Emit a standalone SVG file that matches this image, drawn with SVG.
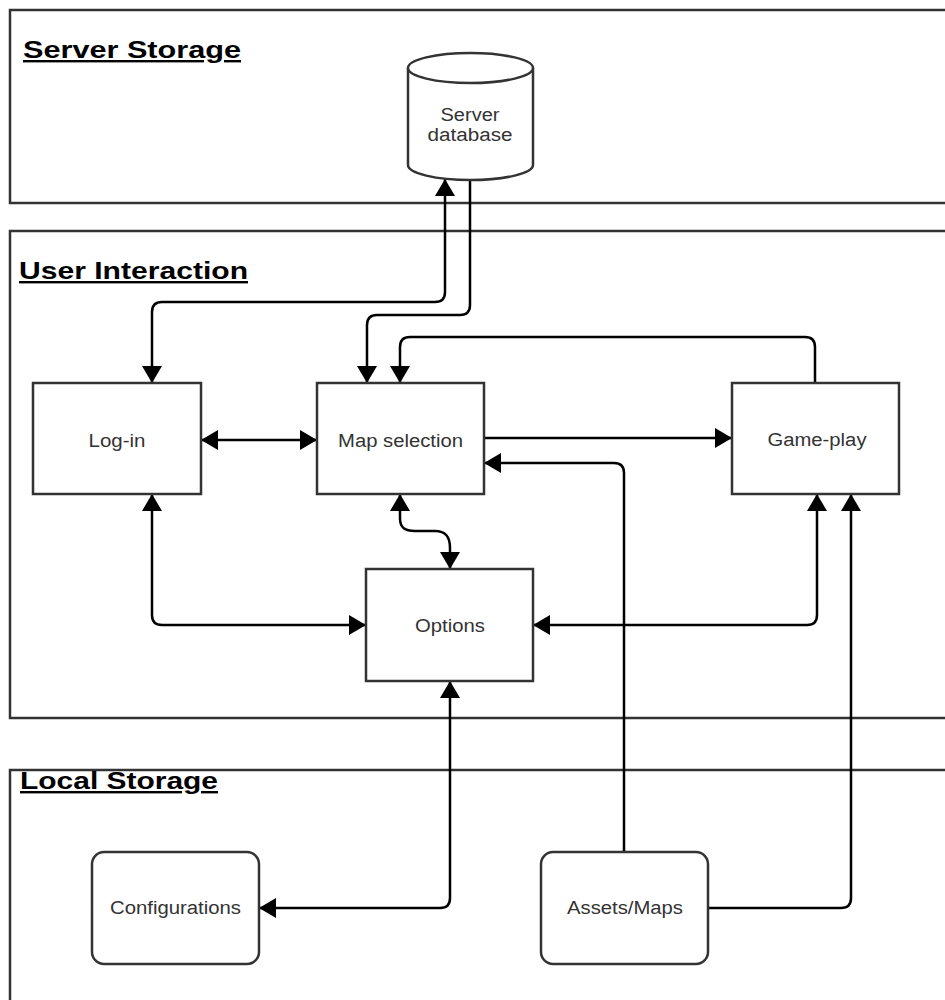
<svg xmlns="http://www.w3.org/2000/svg" width="945" height="1000" viewBox="0 0 945 1000">
  <defs>
    <marker id="arrow" markerUnits="userSpaceOnUse" markerWidth="18" markerHeight="20" refX="17" refY="10" orient="auto-start-reverse">
      <path d="M0,0 L17,10 L0,20 z" fill="#000"/>
    </marker>
  </defs>
  <style>
    .zone { fill: none; stroke: #333; stroke-width: 2.5; }
    .zone-title { font-family: "Liberation Sans", Arial, sans-serif; font-size: 24px; font-weight: bold; fill: #000; text-decoration: underline; }
    .box { fill: #fff; stroke: #333; stroke-width: 2.5; }
    .label { font-family: "Liberation Sans", Arial, sans-serif; font-size: 18px; fill: #333; text-anchor: middle; }
    .link { fill: none; stroke: #000; stroke-width: 2.5; }
    .one { marker-end: url(#arrow); }
    .two { marker-start: url(#arrow); marker-end: url(#arrow); }
  </style>
  <rect width="945" height="1000" fill="#fff"/>

  <!-- swimlane containers -->
  <g id="zone-server">
    <rect class="zone" x="10" y="10" width="960" height="193"/>
    <text class="zone-title" x="23" y="58" textLength="218" lengthAdjust="spacingAndGlyphs">Server Storage</text>
  </g>
  <g id="zone-user">
    <rect class="zone" x="10" y="231" width="960" height="487"/>
    <text class="zone-title" x="19" y="279" textLength="229" lengthAdjust="spacingAndGlyphs">User Interaction</text>
  </g>
  <g id="zone-local">
    <rect class="zone" x="10" y="770" width="960" height="260"/>
    <text class="zone-title" x="20" y="789" textLength="198" lengthAdjust="spacingAndGlyphs">Local Storage</text>
  </g>

  <!-- connectors -->
  <g id="connectors">
    <path class="link two" d="M445,179 V292 Q445,302 435,302 H162 Q152,302 152,312 V383"/>
    <path class="link one" d="M470,180 V305 Q470,315 460,315 H377 Q367,315 367,325 V383"/>
    <path class="link one" d="M815,383 V347 Q815,337 805,337 H410 Q400,337 400,347 V383"/>
    <path class="link two" d="M201,440 H317"/>
    <path class="link one" d="M484,438 H732"/>
    <path class="link one" d="M624,852 V473 Q624,463 614,463 H484"/>
    <path class="link two" d="M152,494 V615 Q152,625 162,625 H366"/>
    <path class="link two" d="M400,494 V518 C400,528 405,531 415,531 H435 C446,531 450,537 450,548 V569"/>
    <path class="link two" d="M817,494 V615 Q817,625 807,625 H533"/>
    <path class="link two" d="M450,681 V898 Q450,908 440,908 H259"/>
    <path class="link one" d="M708,908 H841 Q851,908 851,898 V494"/>
  </g>

  <!-- nodes -->
  <g id="server-database">
    <path class="box" d="M408,68 V165 A62.5,15 0 0 0 533,165 V68"/>
    <ellipse class="box" cx="470.5" cy="68" rx="62.5" ry="15"/>
    <text class="label" x="470" y="121" textLength="59" lengthAdjust="spacingAndGlyphs">Server</text>
    <text class="label" x="470" y="141" textLength="85" lengthAdjust="spacingAndGlyphs">database</text>
  </g>
  <g id="log-in">
    <rect class="box" x="33" y="383" width="168" height="111"/>
    <text class="label" x="117" y="447" textLength="57" lengthAdjust="spacingAndGlyphs">Log-in</text>
  </g>
  <g id="map-selection">
    <rect class="box" x="317" y="383" width="167" height="111"/>
    <text class="label" x="400.5" y="447" textLength="125" lengthAdjust="spacingAndGlyphs">Map selection</text>
  </g>
  <g id="game-play">
    <rect class="box" x="732" y="383" width="167" height="111"/>
    <text class="label" x="817" y="446" textLength="99" lengthAdjust="spacingAndGlyphs">Game-play</text>
  </g>
  <g id="options">
    <rect class="box" x="366" y="569" width="167" height="112"/>
    <text class="label" x="450" y="632" textLength="70" lengthAdjust="spacingAndGlyphs">Options</text>
  </g>
  <g id="configurations">
    <rect class="box" x="92" y="852" width="167" height="112" rx="12" ry="12"/>
    <text class="label" x="175.5" y="914" textLength="131" lengthAdjust="spacingAndGlyphs">Configurations</text>
  </g>
  <g id="assets-maps">
    <rect class="box" x="541" y="852" width="167" height="112" rx="12" ry="12"/>
    <text class="label" x="625" y="914" textLength="116" lengthAdjust="spacingAndGlyphs">Assets/Maps</text>
  </g>
</svg>
